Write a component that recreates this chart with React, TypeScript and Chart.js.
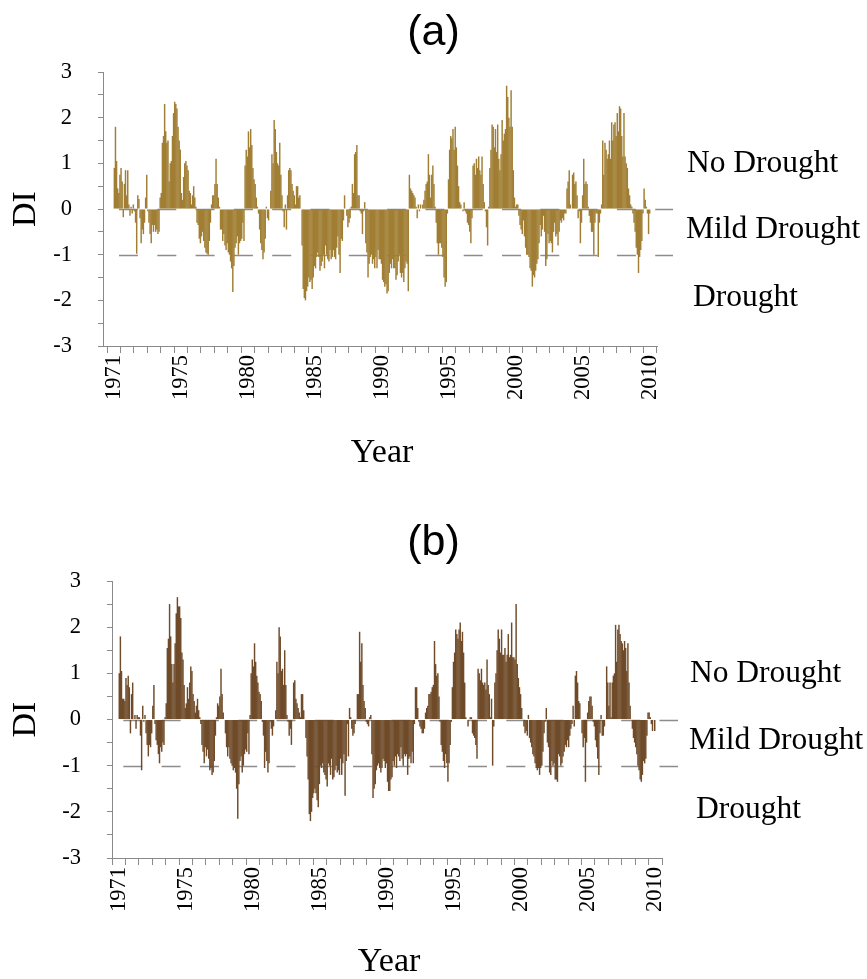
import { useEffect, useRef } from "react";
import { Chart, registerables } from "chart.js";

Chart.register(...registerables);

// ---------- tick labels / categories ----------
const yearTickLabels = ["1971", "1975", "1980", "1985", "1990", "1995", "2000", "2005", "2010"];
const yearTickPositions = [0, 5, 10, 15, 20, 25, 30, 35, 40];
const yearTickCount = 41;
const classLabels = ["No Drought", "Mild Drought", "Drought"];
const classLabelValues = [1.0, -0.45, -1.95];
const thresholdValues = [0, -1];
const panelTitles = ["(a)", "(b)"];
const yAxisTitle = "DI";
const xAxisTitle = "Year";

// ---------- panel (a) monthly DI ----------
const diA_1971_1980 = [
  0.9, 1.8, 1.05, 0.45, 0.35, 0.75, 0.9, 0.6, -0.18, 0.55, 0.85, 0.3,
  0.85, 0.1, -0.15, 0.05, -0.1, 0.1, -0.05, -0.3, -0.98, 0.3, 0.22, -0.2,
  -0.75, -0.45, -0.55, -0.3, 0.25, 0.75, -0.05, -0.3, -0.55, -0.75, -0.35, -0.5,
  -0.35, -0.5, -0.45, -0.55, -0.5, 0.25, 0.35, 1.45, 1.6, 2.3, 1.7, 1.45,
  1.5, 0.6, 1.0, 1.05, 1.6, 2.1, 2.35, 2.3, 2.2, 1.8, 1.5, 1.3,
  0.35, 0.2, 0.7, 1.0, 1.05, 0.95, 0.85, 0.4, 0.35, 0.1, 0.3, 0.5,
  0.25, 0.05, -0.3, -0.35, -0.65, -0.75, -0.6, -0.5, -0.7, -0.85, -0.95, -0.98,
  -1.0, -0.7, -0.3, 0.1, 0.3, 0.3, 0.55, 1.1, 0.55, 0.25, 0.05, -0.45,
  -0.45, -0.7, -0.55, -0.8, -0.9, -0.75, -0.95, -1.0, -1.15, -1.3, -1.82, -1.25,
  -0.85, -0.75, -0.6, -1.0, -0.75, -0.7, -0.65, -0.3, -0.7, 0.95, 1.3, 1.15,
];
const diA_1981_1990 = [
  1.7, 1.35, 1.75, 1.4, 0.9, 0.65, 0.55, 0.25, 0.05, -0.1, -0.45, -0.75,
  -0.9, -1.1, -0.95, -0.65, 0.05, -0.2, -0.25, 0.0, 0.4, 1.2, 1.0, 1.95,
  1.75, 1.25, 1.0, 0.95, 1.45, 0.75, 0.3, -0.05, -0.4, 0.1, -0.45, 0.3,
  0.85, 0.9, 0.85, 0.55, 0.4, 0.3, 0.1, 0.5, 0.5, 0.25, 0.3, 0.0,
  -0.8, -1.75, -1.95, -2.0, -1.8, -1.7, -1.5, -1.6, -1.55, -1.75, -1.5, -1.25,
  -1.3, -1.05, -0.95, -1.05, -1.35, -1.25, -1.15, -1.0, -1.3, -0.8, -1.0, -1.1,
  -1.15, -0.9, -1.1, -1.05, -0.9, -1.05, -1.1, -0.85, -0.6, -1.0, -1.4, -0.65,
  -0.7, -0.25, 0.3, 0.0, -0.15, -0.4, -0.3, -0.2, 0.05, 0.55, 0.35, 1.2,
  1.25, 1.4, 0.3, 0.3, -0.05, -0.1, -0.55, -0.05, 0.15, -0.75, -0.95, -1.5,
  -1.2, -1.05, -1.0, -1.2, -1.1, -1.3, -1.05, -1.3, -0.9, -1.1, -1.1, -1.2,
];
const diA_1991_2000 = [
  -1.55, -1.6, -1.7, -1.65, -1.85, -1.8, -1.4, -1.2, -1.3, -1.1, -1.3, -1.3,
  -1.55, -1.45, -1.15, -1.0, -1.4, -1.5, -1.4, -1.6, -1.3, -1.15, -1.2, -1.8,
  0.75, 0.45, 0.4, 0.35, 0.3, 0.25, 0.05, -0.2, 0.1, -0.05, 0.1, 0.0,
  0.1, 0.2, 0.4, 0.55, 0.6, 1.2, 0.75, 0.25, 0.75, 0.95, 0.55, 0.05,
  -0.3, -0.75, -1.0, -0.75, -0.75, -0.85, -1.05, -1.5, -1.7, -1.6, -0.1, 0.65,
  1.3, 1.6, 1.55, 1.75, 1.3, 1.8, 1.35, 0.95, 0.5, 0.15, 0.1, 0.0,
  -0.05, 0.15, -0.05, -0.1, -0.3, -0.35, -0.5, -0.75, -0.2, 0.95, 1.0, 0.75,
  1.1, 0.9, 1.15, 0.85, 0.75, 1.15, 0.55, 0.15, -0.05, -0.4, -0.8, 0.05,
  0.9, 1.3, 1.85, 1.8, 1.35, 1.75, 1.25, 1.85, 1.1, 0.85, 1.2, 1.95,
  1.5, 1.65, 1.75, 2.7, 2.45, 2.0, 1.8, 2.6, 1.8, 0.85, 0.25, 0.05,
];
const diA_2001_2010 = [
  0.1, 0.1, -0.15, -0.35, -0.45, -0.55, -0.25, -0.6, -0.85, -1.0, -1.0, -1.05,
  -1.3, -1.35, -1.7, -1.45, -1.5, -1.35, -1.2, -1.1, -0.75, -0.35, -0.6, -0.45,
  -0.15, -0.5, -1.25, -1.1, -0.55, -0.75, -0.7, -0.75, -0.95, -0.5, -0.3, -0.6,
  -0.55, -0.8, -0.5, -0.25, -0.3, -0.2, -0.25, -0.1, -0.1, 0.45, 0.6, 0.85,
  0.1, 0.0, 0.75, 0.8, 0.55, 0.6, 0.3, -0.2, -0.05, -0.75, -0.3, 0.3,
  1.1, 0.55, 0.6, 0.55, 0.05, -0.15, -0.3, -0.5, -0.5, -1.0, -0.3, -0.1,
  -0.1, -1.05, -0.3, -0.1, 0.1, 1.5, 0.75, 1.45, 1.3, 1.1, 1.2, 1.5,
  1.1, 1.9, 1.5, 1.85, 1.9, 1.6, 2.1, 1.7, 2.25, 2.2, 1.6, 1.15,
  2.1, 1.15, 1.0, 0.9, 0.45, 0.3, 0.1, 0.05, -0.1, -0.3, -0.5, -0.85,
  -1.0, -1.4, -1.05, -0.9, -0.7, -0.1, 0.45, 0.2, 0.05, -0.1, -0.55, -0.1,
];

// ---------- panel (b) monthly DI ----------
const diB_1971_1980 = [
  1.0, 1.8, 1.05, 0.45, 0.45, 0.4, 0.9, 0.75, 0.95, 0.7, -0.3, 0.55,
  0.8, 0.0, 0.1, -0.2, 0.1, 0.05, 0.05, -0.35, -1.1, 0.3, -0.05, 0.1,
  -0.3, -0.55, -0.8, -0.55, -0.6, -0.3, 0.3, 0.75, -0.1, -0.45, -0.55, -0.75,
  -0.95, -0.6, -0.7, -0.5, -0.55, 0.05, 0.35, 1.55, 1.75, 2.5, 1.8, 1.2,
  0.8, 1.2, 1.65, 2.3, 2.65, 2.45, 2.45, 2.2, 1.45, 1.3, 0.75, 0.25,
  0.35, 0.7, 0.45, 0.8, 1.15, 1.05, 0.55, 0.4, 0.15, 0.3, 0.45, 0.2,
  0.05, -0.1, -0.55, -0.7, -0.95, -0.6, -0.8, -0.65, -0.85, -1.1, -1.05, -1.2,
  -1.15, -0.9, -0.35, 0.05, 0.35, 0.3, 0.5, 1.1, 0.55, 0.15, 0.0, -0.3,
  -0.6, -0.8, -0.6, -0.85, -0.95, -1.0, -1.1, -1.05, -1.15, -1.5, -2.15, -1.4,
  -0.9, -0.8, -1.15, -1.0, -0.75, -0.65, -0.7, -0.3, -0.75, 0.1, 1.0, 1.3,
];
const diB_1981_1990 = [
  1.15, 1.65, 1.25, 0.95, 0.8, 0.6, 0.55, 0.4, -0.05, -0.35, -1.05, -0.7,
  -0.9, -1.15, -0.95, -0.05, -0.2, -0.35, -0.15, 0.0, 0.2, 1.25, 1.0, 2.0,
  1.8, 1.05, 1.1, 0.75, 1.5, 0.75, 0.1, -0.05, -0.35, -0.2, -0.55, 0.0,
  0.8, 0.85, 0.45, 0.35, 0.25, 0.15, 0.05, 0.55, 0.55, 0.2, 0.0, -0.4,
  -0.8, -1.3, -2.05, -2.2, -2.0, -1.7, -1.6, -1.5, -1.6, -1.75, -1.9, -1.4,
  -1.0, -1.05, -0.95, -1.15, -1.2, -1.3, -1.45, -0.95, -1.0, -1.2, -0.85, -1.3,
  -1.25, -1.1, -1.0, -1.15, -1.1, -1.2, -0.85, -1.2, -0.95, -0.75, -1.65, -0.9,
  -0.1, -0.8, 0.25, 0.05, -0.2, -0.35, -0.3, -0.1, 0.0, 0.55, 0.55, 1.9,
  1.25, 1.65, 0.75, 0.4, 0.25, -0.05, -0.1, -0.15, 0.05, 0.1, -0.75, -1.7,
  -1.5, -1.4, -1.1, -1.0, -0.95, -1.05, -1.15, -1.05, -0.85, -0.9, -1.05, -0.95,
];
const diB_1991_2000 = [
  -1.35, -1.55, -1.55, -1.3, -1.25, -0.9, -1.0, -0.8, -1.05, -0.75, -0.8, -0.9,
  -0.6, -0.85, -1.0, -0.75, -0.8, -0.75, -1.2, -0.85, -0.8, -0.95, -0.7, -0.95,
  -0.1, 0.7, 0.7, 0.25, -0.05, -0.15, -0.2, -0.3, -0.3, -0.2, 0.15, 0.25,
  0.3, 0.55, 0.55, 0.6, 0.7, 0.75, 1.7, 1.2, 0.95, 1.0, 0.5, -0.05,
  -0.55, -0.7, -0.9, -1.05, -0.75, -0.95, -1.35, -0.95, -0.55, -0.05, 0.7, 1.25,
  1.45, 1.95, 1.85, 1.75, 1.95, 2.1, 1.7, 1.9, 1.45, 0.8, 0.05, 0.0,
  -0.15, 0.0, 0.05, 0.05, -0.3, -0.35, -0.4, -0.55, -0.85, 1.1, 1.0, 0.85,
  1.1, 0.8, 0.75, 0.8, 0.65, 1.3, 0.75, 0.55, 0.05, 0.45, -1.0, -0.15,
  0.8, 1.0, 1.5, 1.95, 1.75, 1.45, 1.95, 1.4, 1.4, 1.55, 1.25, 1.4,
  1.85, 1.35, 1.4, 2.1, 1.35, 1.35, 1.3, 2.5, 1.2, 0.9, 0.7, 0.55,
];
const diB_2001_2010 = [
  0.25, 0.0, -0.15, -0.3, -0.25, -0.35, 0.1, -0.4, -0.5, -0.6, -0.75, -0.8,
  -0.95, -1.05, -1.1, -1.05, -1.2, -1.05, -1.0, -0.7, -0.3, -0.05, 0.25, -0.5,
  -0.6, -1.15, -1.2, -0.9, -1.0, -0.95, -1.3, -1.3, -1.35, -0.75, -0.8, -1.0,
  -0.95, -0.8, -0.7, -0.55, -0.6, -0.45, -0.6, -0.35, -0.2, -0.1, 0.3, -0.15,
  0.95, 1.05, 0.8, 0.4, 0.35, 0.0, -0.3, -0.6, -0.4, -1.35, -0.5, 0.15,
  0.4, 0.5, 0.5, 0.3, -0.05, -0.15, -0.45, -0.6, -0.85, -1.2, -0.3, 0.1,
  -0.35, -0.35, -0.15, 0.0, 1.15, 0.8, 0.3, 0.8, 0.05, 0.8, 0.95, 1.0,
  2.05, 1.25, 1.95, 2.05, 1.85, 1.7, 1.65, 1.5, 1.7, 1.55, 1.05, 1.65,
  0.8, 0.3, 0.0, -0.2, -0.4, -0.5, -0.6, -0.75, -1.0, -1.1, -1.3, -1.35,
  -1.2, -0.9, -0.95, -0.85, -0.35, 0.15, 0.15, 0.05, -0.1, -0.25, 0.0, -0.25,
];

const seriesA = [...diA_1971_1980, ...diA_1981_1990, ...diA_1991_2000, ...diA_2001_2010];
const seriesB = [...diB_1971_1980, ...diB_1981_1990, ...diB_1991_2000, ...diB_2001_2010];

const SERIF = '"Liberation Serif", "Times New Roman", serif';
const SANS = '"Liberation Sans", Arial, sans-serif';
const AXIS_GRAY = "#8a8a8a";

type PanelCfg = {
  title: string;
  values: number[];
  fill: string;
  canvasTop: number;
  canvasH: number;
  left: number;
  right: number;
  top: number;
  bottom: number;
  xMin: number;
  titleY: number;
  dashOffset: number;
  classDx: number;
  yearY: number;
};

const panels: PanelCfg[] = [
  {
    title: panelTitles[0], values: seriesA, fill: "#a07e33",
    canvasTop: 0, canvasH: 490, left: 103, right: 657, top: 72, bottom: 346,
    xMin: -0.3, titleY: 33, dashOffset: 22.3, classDx: 30, yearY: 453,
  },
  {
    title: panelTitles[1], values: seriesB, fill: "#6f4b29",
    canvasTop: 490, canvasH: 489, left: 112, right: 662, top: 91, bottom: 368,
    xMin: 0, titleY: 53, dashOffset: 27, classDx: 28, yearY: 472,
  },
];

function yearLabel(v: number): string {
  const idx = yearTickPositions.indexOf(v);
  return idx >= 0 ? yearTickLabels[idx] : "";
}

function Panel({ cfg }: { cfg: PanelCfg }) {
  const ref = useRef<HTMLCanvasElement | null>(null);
  useEffect(() => {
    const canvas = ref.current;
    if (!canvas) return;
    const points = cfg.values.map((v, i) => ({ x: i / 12 + 1 / 24, y: v }));

    const decor = {
      id: "decor",
      beforeDatasetsDraw(chart: any) {
        const { ctx, chartArea, scales } = chart;
        ctx.save();
        ctx.strokeStyle = "#8c8c8c";
        ctx.lineWidth = 1.3;
        ctx.setLineDash([19, 19.3]);
        ctx.lineDashOffset = cfg.dashOffset;
        for (const v of thresholdValues) {
          const py = Math.round(scales.y.getPixelForValue(v)) + 0.5;
          ctx.beginPath();
          ctx.moveTo(chartArea.left, py);
          ctx.lineTo(chartArea.right + 16, py);
          ctx.stroke();
        }
        ctx.restore();
      },
      afterDraw(chart: any) {
        const { ctx, chartArea, scales } = chart;
        ctx.save();
        ctx.fillStyle = "#000";
        // panel title
        ctx.font = `43px ${SANS}`;
        ctx.textAlign = "center";
        ctx.textBaseline = "middle";
        ctx.fillText(cfg.title, chart.width / 2, cfg.titleY);
        // x title
        ctx.font = `34px ${SERIF}`;
        ctx.fillText(xAxisTitle, (chartArea.left + chartArea.right) / 2 + 2, cfg.yearY);
        // y title
        ctx.save();
        ctx.translate(26, scales.y.getPixelForValue(0));
        ctx.rotate(-Math.PI / 2);
        ctx.font = `34px ${SERIF}`;
        ctx.fillText(yAxisTitle, 0, 0);
        ctx.restore();
        // class labels
        ctx.font = `31.5px ${SERIF}`;
        ctx.textAlign = "left";
        classLabels.forEach((lab, i) => {
          const dx = i === 2 ? 6 : i === 1 ? -1 : 0;
          ctx.fillText(lab, chartArea.right + cfg.classDx + dx, scales.y.getPixelForValue(classLabelValues[i]));
        });
        ctx.restore();
      },
    };

    const chart = new Chart(canvas, {
      type: "bar",
      data: {
        datasets: [
          {
            data: points as any,
            backgroundColor: cfg.fill,
            borderWidth: 0,
            barPercentage: 1.3,
            categoryPercentage: 1,
          },
        ],
      },
      options: {
        animation: false,
        responsive: false,
        devicePixelRatio: 1,
        layout: { padding: { left: 0, top: cfg.top, right: 867 - cfg.right, bottom: 0 } },
        plugins: { legend: { display: false }, tooltip: { enabled: false }, title: { display: false } },
        scales: {
          x: {
            type: "linear",
            min: cfg.xMin,
            max: 40,
            afterFit: (s: any) => {
              s.height = cfg.canvasH - cfg.bottom;
            },
            afterBuildTicks: (s: any) => {
              s.ticks = Array.from({ length: yearTickCount }, (_, k) => ({ value: k }));
            },
            ticks: {
              autoSkip: false,
              minRotation: 90,
              maxRotation: 90,
              padding: 2,
              color: "#000",
              font: { family: SERIF, size: 22.5 },
              callback: (v: any) => yearLabel(Number(v)),
            },
            grid: { display: true, drawOnChartArea: false, drawTicks: true, tickLength: 7, color: AXIS_GRAY, lineWidth: 1 },
            border: { display: true, color: AXIS_GRAY, width: 1 },
          },
          y: {
            min: -3,
            max: 3,
            afterFit: (s: any) => {
              s.width = cfg.left;
            },
            ticks: {
              stepSize: 0.5,
              autoSkip: false,
              padding: 26,
              color: "#000",
              font: { family: SERIF, size: 22.5 },
              callback: (v: any) => (Number.isInteger(Number(v)) ? String(v) : ""),
            },
            grid: { display: true, drawOnChartArea: false, drawTicks: true, tickLength: 5, color: AXIS_GRAY, lineWidth: 1 },
            border: { display: true, color: AXIS_GRAY, width: 1 },
          },
        },
      } as any,
      plugins: [decor],
    });
    return () => chart.destroy();
  }, [cfg]);

  return (
    <div style={{ position: "absolute", left: 0, top: cfg.canvasTop, width: 867, height: cfg.canvasH }}>
      <canvas ref={ref} width={867} height={cfg.canvasH} style={{ display: "block", width: 867, height: cfg.canvasH }} />
    </div>
  );
}

export default function App() {
  return (
    <div style={{ position: "absolute", left: 0, top: 0, width: 867, height: 979, background: "#fff", overflow: "hidden" }}>
      {panels.map((p) => (
        <Panel key={p.title} cfg={p} />
      ))}
    </div>
  );
}
